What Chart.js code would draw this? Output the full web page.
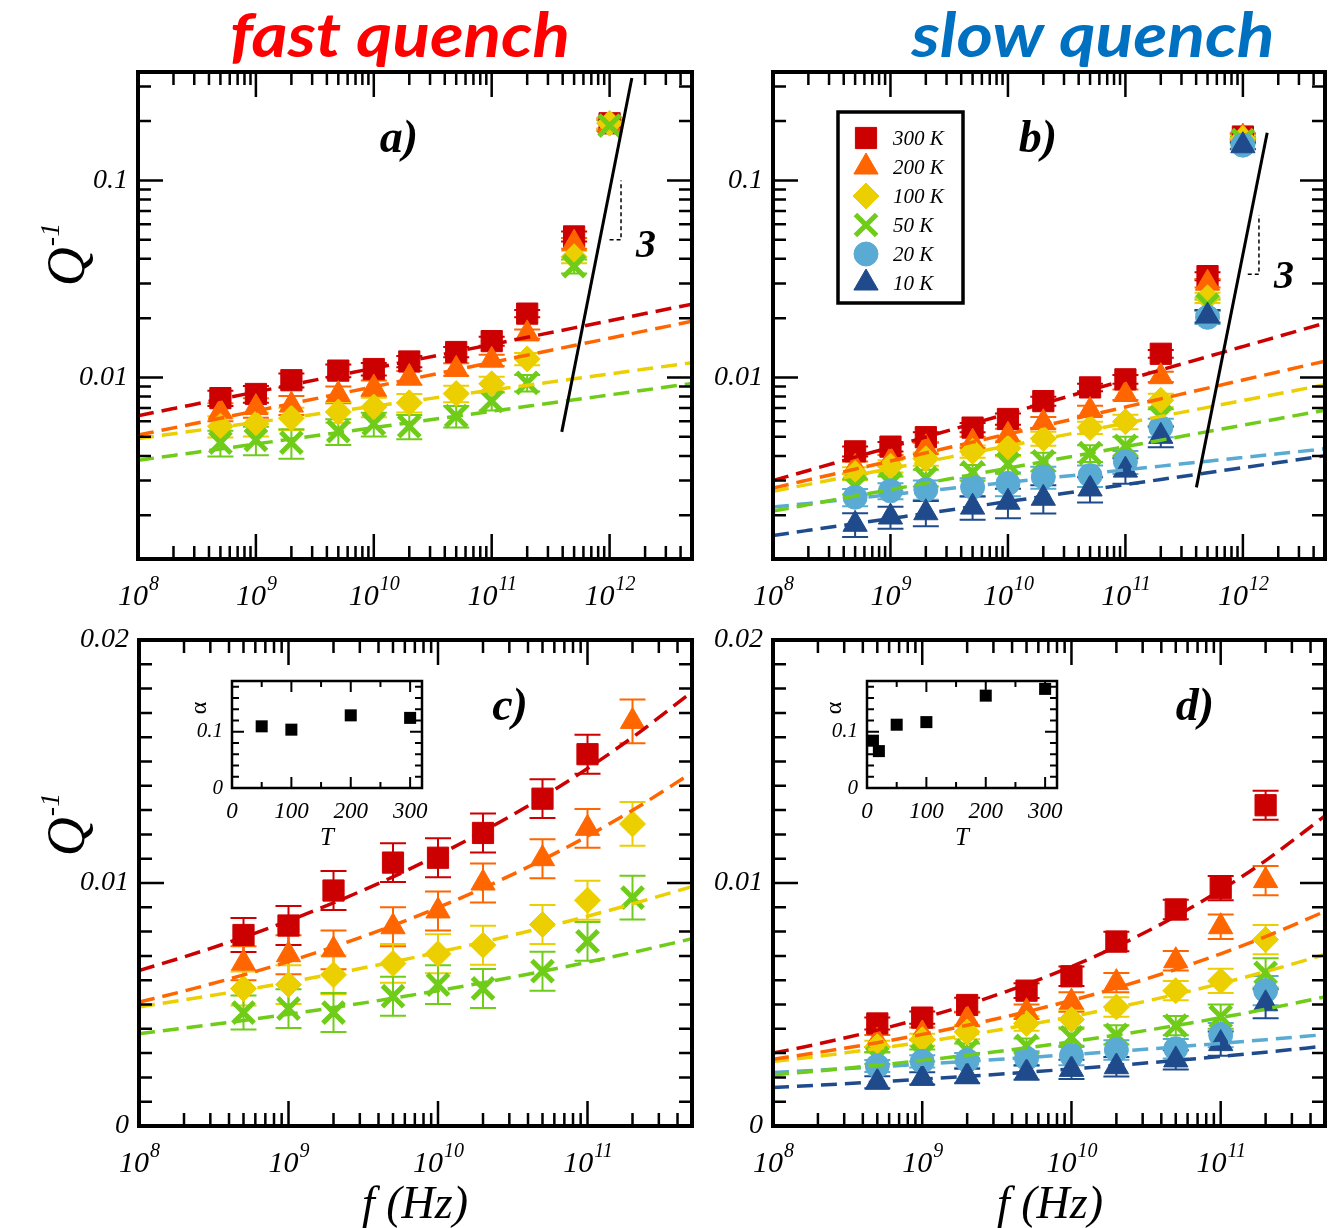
<!doctype html>
<html>

<head>
	<meta charset="utf-8">
	<title>Internal friction Q^-1 versus frequency</title>
	<script src="https://cdn.jsdelivr.net/npm/chart.js@4.4.1/dist/chart.umd.min.js"></script>
	<style>
		body { margin: 0; background: #fff; }
		#figure { position: relative; width: 1332px; height: 1228px; overflow: hidden; }
		#figure canvas { position: absolute; }
	</style>
</head>

<body>
	<div id="figure">
		<canvas id="panel-a" width="730" height="620" style="left:0;top:0"></canvas>
		<canvas id="panel-b" width="670" height="620" style="left:690px;top:0"></canvas>
		<canvas id="panel-c" width="730" height="608" style="left:0;top:620px"></canvas>
		<canvas id="panel-d" width="670" height="608" style="left:690px;top:620px"></canvas>
		<canvas id="inset-c" width="260" height="190" style="left:180px;top:660px"></canvas>
		<canvas id="inset-d" width="260" height="190" style="left:815px;top:660px"></canvas>
	</div>

	<script>
		const SERIF = '"Liberation Serif", "Times New Roman", serif';

		// measured frequencies (Hz)
		const freqs = [5e8, 1e9, 2e9, 5e9, 1e10, 2e10, 5e10, 1e11, 2e11, 5e11, 1e12];
		// frequencies where the power-law fits are evaluated
		const fitFreqs = [1e8, 2e8, 5e8, 1e9, 2e9, 5e9, 1e10, 2e10, 5e10, 1e11, 2e11, 5e11, 1e12, 2e12, 5e12];

		const tempLabels = ['300 K', '200 K', '100 K', '50 K', '20 K', '10 K'];
		const tempColors = ['#cc0000', '#ff6600', '#ebcf00', '#6fcc18', '#5aabd3', '#1f4b8c'];
		const tempShapes = ['rect', 'triangle', 'rectRot', 'crossRot', 'circle', 'triangle'];
		const tempRadius = [15, 14, 13, 15, 12, 14];

		// fast quench: Q^-1 per temperature
		const fast300 = [0.00786, 0.00825, 0.00969, 0.01084, 0.01104, 0.01206, 0.01347, 0.0153, 0.0211, 0.052, 0.195];
		const fast200 = [0.00670, 0.00705, 0.00725, 0.00820, 0.00885, 0.0100, 0.0110, 0.01225, 0.01665, 0.048, 0.190];
		const fast100 = [0.00566, 0.00582, 0.00622, 0.00669, 0.00709, 0.00744, 0.00829, 0.00929, 0.01243, 0.041, 0.195];
		const fast50 = [0.00467, 0.00483, 0.00467, 0.00534, 0.00582, 0.00566, 0.00637, 0.0076, 0.0094, 0.0367, 0.190];
		const fastErr = [0.0007, 0.0008, 0.0008, 0.0008, 0.0008, 0.0008, 0.0008, 0.0008, 0.0009, 0.003, 0.012];
		// power-law fits: Q^-1 at 1e8 Hz and exponent
		const fastFitQ0 = [0.0064, 0.0051, 0.0049, 0.0038];
		const fastFitExp = [0.1205, 0.123, 0.082, 0.083];

		// slow quench: Q^-1 per temperature
		const slow300 = [0.00422, 0.00446, 0.00498, 0.00557, 0.00616, 0.00759, 0.00891, 0.00979, 0.0132, 0.0327, 0.167];
		const slow200 = [0.0035, 0.0038, 0.0044, 0.0047, 0.0051, 0.0059, 0.0068, 0.0082, 0.0101, 0.0301, 0.166];
		const slow100 = [0.00326, 0.00355, 0.00387, 0.00422, 0.00438, 0.0049, 0.00557, 0.00597, 0.00767, 0.0254, 0.163];
		const slow50 = [0.0028, 0.0029, 0.0031, 0.0033, 0.00365, 0.00375, 0.00413, 0.0045, 0.0063, 0.0234, 0.160];
		const slow20 = [0.00247, 0.00266, 0.0027, 0.00278, 0.0029, 0.00313, 0.00318, 0.00374, 0.00557, 0.0202, 0.151];
		const slow10 = [0.00180, 0.00196, 0.00206, 0.0022, 0.00233, 0.00244, 0.00272, 0.00339, 0.00503, 0.0205, 0.150];
		const slowErr = [0.00025, 0.00025, 0.0003, 0.0003, 0.0004, 0.0004, 0.0004, 0.0005, 0.0006, 0.0015, 0.006];
		const slowFitQ0 = [0.0030, 0.00275, 0.00265, 0.0021, 0.0022, 0.00158];
		const slowFitExp = [0.170, 0.137, 0.115, 0.109, 0.063, 0.086];

		// insets: exponent alpha against temperature
		const fastAlphaT = [50, 100, 200, 300];
		const fastAlpha = [0.1095, 0.1036, 0.129, 0.1245];
		const slowAlphaT = [10, 20, 50, 100, 200, 300];
		const slowAlpha = [0.084, 0.0655, 0.1124, 0.117, 0.164, 0.176];

		// slope-3 guide lines and their step marks
		const fastSlopeF = [3.93e11, 1.545e12];
		const fastSlopeQ = [0.0053, 0.331];
		const fastStepF = [1.0e12, 1.25e12, 1.25e12];
		const fastStepQ = [0.05, 0.05, 0.1];
		const slowSlopeF = [4.02e11, 1.61e12];
		const slowSlopeQ = [0.00277, 0.1745];
		const slowStepF = [1.1e12, 1.37e12, 1.37e12];
		const slowStepQ = [0.0334, 0.0334, 0.0666];

		const pts = (xs, ys) => xs.map((x, i) => ({ x, y: ys[i] }));

		function markerSets(series, err, xMax) {
			return series.map((q, i) => ({
				label: tempLabels[i],
				data: pts(freqs, q).filter(p => p.x < xMax),
				errors: err,
				showLine: false,
				pointStyle: tempShapes[i],
				pointRadius: tempRadius[i],
				pointHoverRadius: tempRadius[i],
				backgroundColor: tempColors[i],
				borderColor: tempColors[i],
				borderWidth: tempShapes[i] === 'crossRot' ? 5 : 1,
				order: 20 - i
			}));
		}

		function fitSets(q0, expo, xMax) {
			return q0.map((a, i) => ({
				data: fitFreqs.filter(f => f <= xMax).map(f => ({ x: f, y: a * Math.pow(f / 1e8, expo[i]) })),
				showLine: true,
				borderColor: tempColors[i],
				borderWidth: 3.5,
				borderDash: [16, 8],
				pointRadius: 0,
				cubicInterpolationMode: 'monotone',
				order: 1
			}));
		}

		function guideSets(sf, sq, tf, tq) {
			return [{
				data: pts(sf, sq), showLine: true, borderColor: '#000', borderWidth: 3,
				pointRadius: 0, order: 0
			}, {
				data: pts(tf, tq), showLine: true, borderColor: '#000', borderWidth: 1.5,
				borderDash: [4, 3], pointRadius: 0, order: 0
			}];
		}

		function logTicks(min, max) {
			const out = [];
			for (let e = Math.floor(Math.log10(min)); e <= Math.ceil(Math.log10(max)); e++) {
				for (let m = 1; m < 10; m++) {
					const v = m * Math.pow(10, e);
					if (v >= min * 0.999 && v <= max * 1.001) out.push({ v, major: m === 1, e });
				}
			}
			return out;
		}

		function linTicks(min, max, step, every) {
			const out = [];
			for (let k = 0; min + k * step <= max + step * 1e-6; k++) {
				out.push({ v: min + k * step, major: k % every === 0 });
			}
			return out;
		}

		// error bars with caps, drawn under the markers
		const errorBars = {
			id: 'errorBars',
			beforeDatasetsDraw(chart) {
				const { ctx, chartArea: a, scales: { x, y } } = chart;
				ctx.save();
				ctx.beginPath();
				ctx.rect(a.left, a.top, a.right - a.left, a.bottom - a.top);
				ctx.clip();
				chart.data.datasets.forEach(ds => {
					if (!ds.errors) return;
					ctx.strokeStyle = ds.borderColor;
					ctx.lineWidth = 2;
					ctx.beginPath();
					ds.data.forEach((p, i) => {
						const px = x.getPixelForValue(p.x);
						const hi = y.getPixelForValue(p.y + ds.errors[i]);
						const lo = y.getPixelForValue(p.y - ds.errors[i]);
						ctx.moveTo(px, hi); ctx.lineTo(px, lo);
						ctx.moveTo(px - 13, hi); ctx.lineTo(px + 13, hi);
						ctx.moveTo(px - 13, lo); ctx.lineTo(px + 13, lo);
					});
					ctx.stroke();
				});
				ctx.restore();
			}
		};

		// box, inward ticks on all four sides, then the panel's own labels
		const frameFor = cfg => ({
			id: 'frame',
			afterDraw(chart) {
				const { ctx, chartArea: a, scales: { x, y } } = chart;
				ctx.save();
				ctx.strokeStyle = '#000';
				ctx.fillStyle = '#000';
				ctx.lineWidth = cfg.tickWidth;
				ctx.beginPath();
				cfg.xTicks.forEach(t => {
					const p = x.getPixelForValue(t.v), l = t.major ? cfg.xMajor : cfg.xMinor;
					ctx.moveTo(p, a.bottom); ctx.lineTo(p, a.bottom - l);
					ctx.moveTo(p, a.top); ctx.lineTo(p, a.top + l);
				});
				cfg.yTicks.forEach(t => {
					const p = y.getPixelForValue(t.v), l = t.major ? cfg.yMajor : cfg.yMinor;
					ctx.moveTo(a.left, p); ctx.lineTo(a.left + l, p);
					ctx.moveTo(a.right, p); ctx.lineTo(a.right - l, p);
				});
				ctx.stroke();
				ctx.lineWidth = cfg.border;
				ctx.strokeRect(a.left, a.top, a.right - a.left, a.bottom - a.top);
				cfg.labels(ctx, chart);
				ctx.restore();
			}
		});

		function drawPow(ctx, x, y, exp) {
			ctx.textAlign = 'left';
			ctx.textBaseline = 'alphabetic';
			ctx.font = `italic 30px ${SERIF}`;
			const wb = ctx.measureText('10').width;
			ctx.font = `italic 20px ${SERIF}`;
			const ws = ctx.measureText(String(exp)).width;
			const x0 = x - (wb + ws) / 2;
			ctx.font = `italic 30px ${SERIF}`;
			ctx.fillText('10', x0, y);
			ctx.font = `italic 20px ${SERIF}`;
			ctx.fillText(String(exp), x0 + wb + 1, y - 15);
		}

		function drawQLabel(ctx, x, y) {
			ctx.save();
			ctx.translate(x, y);
			ctx.rotate(-Math.PI / 2);
			ctx.textAlign = 'left';
			ctx.textBaseline = 'alphabetic';
			ctx.font = `italic 54px ${SERIF}`;
			const wq = ctx.measureText('Q').width;
			ctx.font = `italic 28px ${SERIF}`;
			const ws = ctx.measureText('-1').width;
			const x0 = -(wq + ws) / 2;
			ctx.font = `italic 54px ${SERIF}`;
			ctx.fillText('Q', x0, 0);
			ctx.font = `italic 28px ${SERIF}`;
			ctx.fillText('-1', x0 + wq + 1, -25);
			ctx.restore();
		}

		function drawTitle(ctx, text, cx, width, color) {
			ctx.save();
			ctx.font = 'italic bold 62px Lato, "Liberation Sans", sans-serif';
			const w = ctx.measureText(text).width;
			ctx.translate(cx, 57);
			ctx.scale(width / w, 1);
			ctx.fillStyle = color;
			ctx.textAlign = 'center';
			ctx.textBaseline = 'alphabetic';
			ctx.fillText(text, 0, 0);
			ctx.restore();
		}

		function drawText(ctx, text, x, y, font, align = 'center', base = 'middle') {
			ctx.font = font;
			ctx.textAlign = align;
			ctx.textBaseline = base;
			ctx.fillText(text, x, y);
		}

		function drawLegend(ctx, n, x0) {
			ctx.lineWidth = 3.5;
			ctx.strokeRect(x0, 112, 125, 191);
			for (let i = 0; i < n; i++) {
				const yy = 138 + i * 29;
				ctx.save();
				ctx.fillStyle = tempColors[i];
				ctx.strokeStyle = tempColors[i];
				const bw = tempShapes[i] === 'crossRot' ? 5 : 1;
				ctx.lineWidth = bw;
				Chart.helpers.drawPoint(ctx, {
					pointStyle: tempShapes[i], radius: tempRadius[i], rotation: 0, borderWidth: bw
				}, x0 + 28, yy);
				ctx.restore();
				drawText(ctx, tempLabels[i], x0 + 55, yy + 1, `italic 21px ${SERIF}`, 'left');
			}
		}

		function mainLabels(o) {
			return (ctx, chart) => {
				const { chartArea: a, scales: { x, y } } = chart;
				o.xTicks.filter(t => t.major).forEach(t => drawPow(ctx, x.getPixelForValue(t.v), a.bottom + 46, t.e));
				o.yTicks.filter(t => t.major).forEach(t => {
					drawText(ctx, o.yText(t.v), a.left - 10, y.getPixelForValue(t.v), `italic 28px ${SERIF}`, 'right');
				});
				drawText(ctx, o.letter, o.letterX, o.letterY, `italic bold 46px ${SERIF}`);
				if (o.three) drawText(ctx, '3', o.three[0], o.three[1], `italic bold 40px ${SERIF}`);
				if (o.title) drawTitle(ctx, o.title[0], o.title[1], o.title[2], o.title[3]);
				if (o.qLabel) drawQLabel(ctx, o.qLabel[0], o.qLabel[1]);
				if (o.fLabel) drawText(ctx, 'f (Hz)', o.fLabel[0], o.fLabel[1], `italic 46px ${SERIF}`, 'center', 'alphabetic');
				if (o.legend) drawLegend(ctx, o.legend, o.legendX);
			};
		}

		function makePanel(id, o) {
			const logY = o.logY;
			const xTicks = logTicks(1e8, o.xMax);
			const yTicks = logY ? logTicks(0.0012, 0.355) : linTicks(0, 0.02, 0.001, 10);
			const yText = logY ? v => String(v) : v => (v === 0 ? '0' : v.toFixed(2));
			const datasets = [...fitSets(o.fitQ0, o.fitExp, o.xMax), ...markerSets(o.series, o.err, o.xMax)];
			if (o.guide) datasets.push(...guideSets(...o.guide));
			return new Chart(document.getElementById(id), {
				type: 'scatter',
				data: { datasets },
				options: {
					responsive: false,
					animation: false,
					events: [],
					layout: { padding: o.pad },
					scales: {
						x: { type: 'logarithmic', min: 1e8, max: o.xMax, bounds: 'data', display: false },
						y: logY
							? { type: 'logarithmic', min: 0.0012, max: 0.355, bounds: 'data', display: false }
							: { type: 'linear', min: 0, max: 0.02, bounds: 'data', display: false }
					},
					plugins: { legend: { display: false }, tooltip: { enabled: false } }
				},
				plugins: [errorBars, frameFor({
					xTicks, yTicks, xMajor: 25, xMinor: 13, yMajor: 25, yMinor: 13, tickWidth: 2.5, border: 4,
					labels: mainLabels(Object.assign({ xTicks, yTicks, yText }, o))
				})]
			});
		}

		function makeInset(id, T, alpha) {
			const xTicks = linTicks(0, 300, 50, 2);
			const yTicks = linTicks(0, 0.18, 0.02, 5);
			return new Chart(document.getElementById(id), {
				type: 'scatter',
				data: {
					datasets: [{
						data: pts(T, alpha), pointStyle: 'rect', pointRadius: 8.5,
						backgroundColor: '#000', borderColor: '#000', borderWidth: 0
					}]
				},
				options: {
					responsive: false,
					animation: false,
					events: [],
					layout: { padding: { left: 52, top: 21, right: 18, bottom: 62 } },
					scales: {
						x: { type: 'linear', min: 0, max: 320, bounds: 'data', display: false },
						y: { type: 'linear', min: 0, max: 0.19, bounds: 'data', display: false }
					},
					plugins: { legend: { display: false }, tooltip: { enabled: false } }
				},
				plugins: [frameFor({
					xTicks, yTicks, xMajor: 11, xMinor: 6, yMajor: 12, yMinor: 7, tickWidth: 2, border: 2.5,
					labels: (ctx, chart) => {
						const { chartArea: a, scales: { x, y } } = chart;
						xTicks.filter(t => t.major).forEach(t => {
							drawText(ctx, String(t.v), x.getPixelForValue(t.v), a.bottom + 30, `italic 23px ${SERIF}`, 'center', 'alphabetic');
						});
						[0, 0.1].forEach(v => {
							drawText(ctx, String(v), a.left - 9, y.getPixelForValue(v), `italic 21px ${SERIF}`, 'right');
						});
						drawText(ctx, 'T', (a.left + a.right) / 2, a.bottom + 57, `italic 25px ${SERIF}`, 'center', 'alphabetic');
						ctx.save();
						ctx.translate(20, 48);
						ctx.rotate(-Math.PI / 2);
						drawText(ctx, 'α', 0, 0, `24px ${SERIF}`);
						ctx.restore();
					}
				})]
			});
		}

		const fastSeries = [fast300, fast200, fast100, fast50];
		const slowSeries = [slow300, slow200, slow100, slow50, slow20, slow10];

		makePanel('panel-a', {
			logY: true, xMax: 5e12, pad: { left: 138, top: 72, right: 38, bottom: 61 },
			series: fastSeries, err: fastErr, fitQ0: fastFitQ0, fitExp: fastFitExp,
			guide: [fastSlopeF, fastSlopeQ, fastStepF, fastStepQ],
			letter: 'a)', letterX: 399, letterY: 140, three: [646, 247],
			title: ['fast quench', 400, 340, '#ff0000'], qLabel: [84, 255]
		});
		makePanel('panel-b', {
			logY: true, xMax: 5e12, pad: { left: 83, top: 72, right: 35, bottom: 61 },
			series: slowSeries, err: slowErr, fitQ0: slowFitQ0, fitExp: slowFitExp,
			guide: [slowSlopeF, slowSlopeQ, slowStepF, slowStepQ],
			letter: 'b)', letterX: 348, letterY: 140, three: [594, 278],
			title: ['slow quench', 403, 363, '#0070c0'], legend: 6, legendX: 148
		});
		makePanel('panel-c', {
			logY: false, xMax: 5e11, pad: { left: 139, top: 20, right: 38, bottom: 102 },
			series: fastSeries, err: fastErr, fitQ0: fastFitQ0, fitExp: fastFitExp,
			letter: 'c)', letterX: 510, letterY: 88, qLabel: [84, 205], fLabel: [415, 598]
		});
		makePanel('panel-d', {
			logY: false, xMax: 5e11, pad: { left: 83, top: 20, right: 35, bottom: 102 },
			series: slowSeries, err: slowErr, fitQ0: slowFitQ0, fitExp: slowFitExp,
			letter: 'd)', letterX: 505, letterY: 88, fLabel: [360, 598]
		});
		makeInset('inset-c', fastAlphaT, fastAlpha);
		makeInset('inset-d', slowAlphaT, slowAlpha);
	</script>
</body>

</html>
